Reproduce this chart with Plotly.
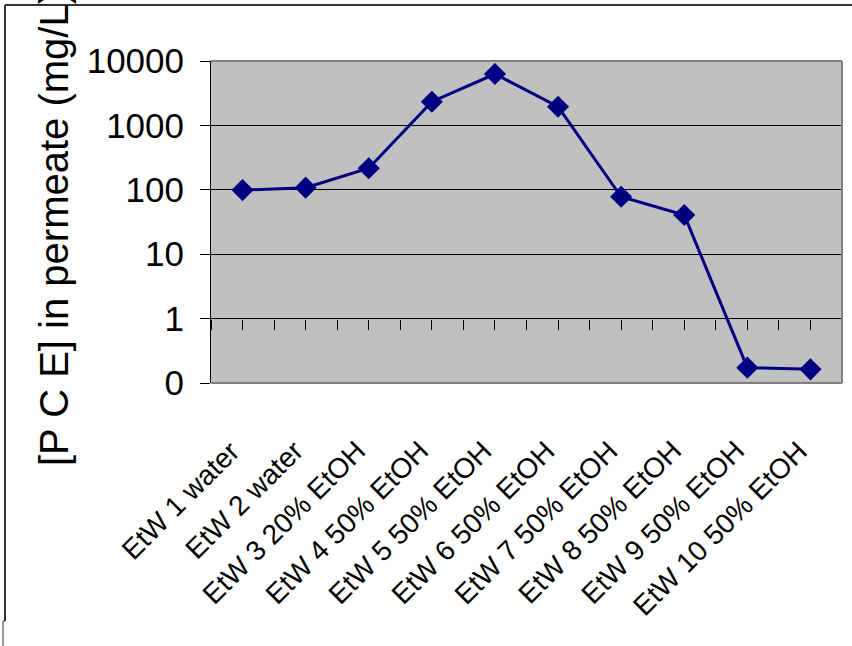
import plotly.graph_objects as go

categories = ["EtW 1 water", "EtW 2 water", "EtW 3 20% EtOH", "EtW 4 50% EtOH",
              "EtW 5 50% EtOH", "EtW 6 50% EtOH", "EtW 7 50% EtOH", "EtW 8 50% EtOH",
              "EtW 9 50% EtOH", "EtW 10 50% EtOH"]
pce_values = [99, 108, 216, 2330, 6280, 1950, 78, 40.6, 0.173, 0.163]
y_tick_values = [0.1, 1, 10, 100, 1000, 10000]
y_tick_labels = ["0", "1", "10", "100", "1000", "10000"]
minor_tick_positions = [i * 0.5 - 0.5 for i in range(21)]

W, H = 852, 646
L, R, T, B = 211, 842, 61, 383

def px(x):
    return (x - L) / (R - L)

def py(y):
    return (B - y) / (B - T)

fig = go.Figure()
fig.add_trace(go.Scatter(
    x=categories, y=pce_values, mode="lines+markers",
    line=dict(color="#000080", width=3),
    marker=dict(symbol="diamond", size=17, color="#000080"),
    showlegend=False, cliponaxis=False))
# invisible trace to carry the tick axis at value 1
fig.add_trace(go.Scatter(x=[minor_tick_positions[0]], y=[1], xaxis="x2", mode="markers",
                         marker=dict(opacity=0), showlegend=False, hoverinfo="skip"))

font = "Liberation Sans, Arial, sans-serif"

annotations = [dict(text="[P C E] in permeate (mg/L)", textangle=-90, xref="paper", yref="paper",
                    x=px(30), y=py(229), showarrow=False,
                    font=dict(size=40, family=font, color="black"))]
for c in categories:
    annotations.append(dict(text=c, textangle=-45, xref="x", yref="paper", x=c, y=py(434),
                            xanchor="right", yanchor="top", showarrow=False, borderpad=0,
                            xshift=4, font=dict(size=28, family=font, color="black")))

fig.update_layout(
    width=W, height=H,
    margin=dict(l=L, r=W - R, t=T, b=H - B),
    paper_bgcolor="white", plot_bgcolor="#C0C0C0",
    font=dict(family=font, color="black"),
    xaxis=dict(type="category", range=[-0.5, 9.5], showgrid=False, showline=False,
               ticks="", showticklabels=False, zeroline=False),
    xaxis2=dict(overlaying="x", anchor="free", position=0.2, range=[-0.5, 9.5],
                tickvals=minor_tick_positions, ticks="outside", ticklen=10, tickwidth=1,
                tickcolor="black", showticklabels=False, showgrid=False, showline=False,
                zeroline=False, side="bottom"),
    yaxis=dict(type="log", range=[-1, 4], tickvals=y_tick_values, ticktext=y_tick_labels,
               showgrid=True, gridcolor="black", gridwidth=1,
               ticks="outside", ticklen=10, tickcolor="black", tickwidth=1,
               showline=True, linecolor="black", linewidth=1,
               tickfont=dict(size=35, family=font), ticklabelstandoff=9, zeroline=False),
    annotations=annotations,
    shapes=[
        dict(type="line", xref="paper", yref="paper", x0=0, x1=1, y0=1, y1=1,
             line=dict(color="#808080", width=2)),
        dict(type="line", xref="paper", yref="paper", x0=1, x1=1, y0=0, y1=1,
             line=dict(color="#808080", width=2)),
        dict(type="line", xref="paper", yref="paper", x0=0, x1=1, y0=0, y1=0,
             line=dict(color="#808080", width=2)),
        dict(type="line", xref="paper", yref="paper", x0=px(5), x1=px(852), y0=py(5), y1=py(5),
             line=dict(color="#333333", width=2)),
        dict(type="line", xref="paper", yref="paper", x0=px(5), x1=px(5), y0=py(5), y1=py(621),
             line=dict(color="#333333", width=2)),
        dict(type="line", xref="paper", yref="paper", x0=px(3), x1=px(5), y0=py(621), y1=py(621),
             line=dict(color="#333333", width=1)),
        dict(type="line", xref="paper", yref="paper", x0=px(3), x1=px(3), y0=py(621), y1=py(646),
             line=dict(color="#333333", width=1)),
    ],
)

fig.write_html("out.html")
